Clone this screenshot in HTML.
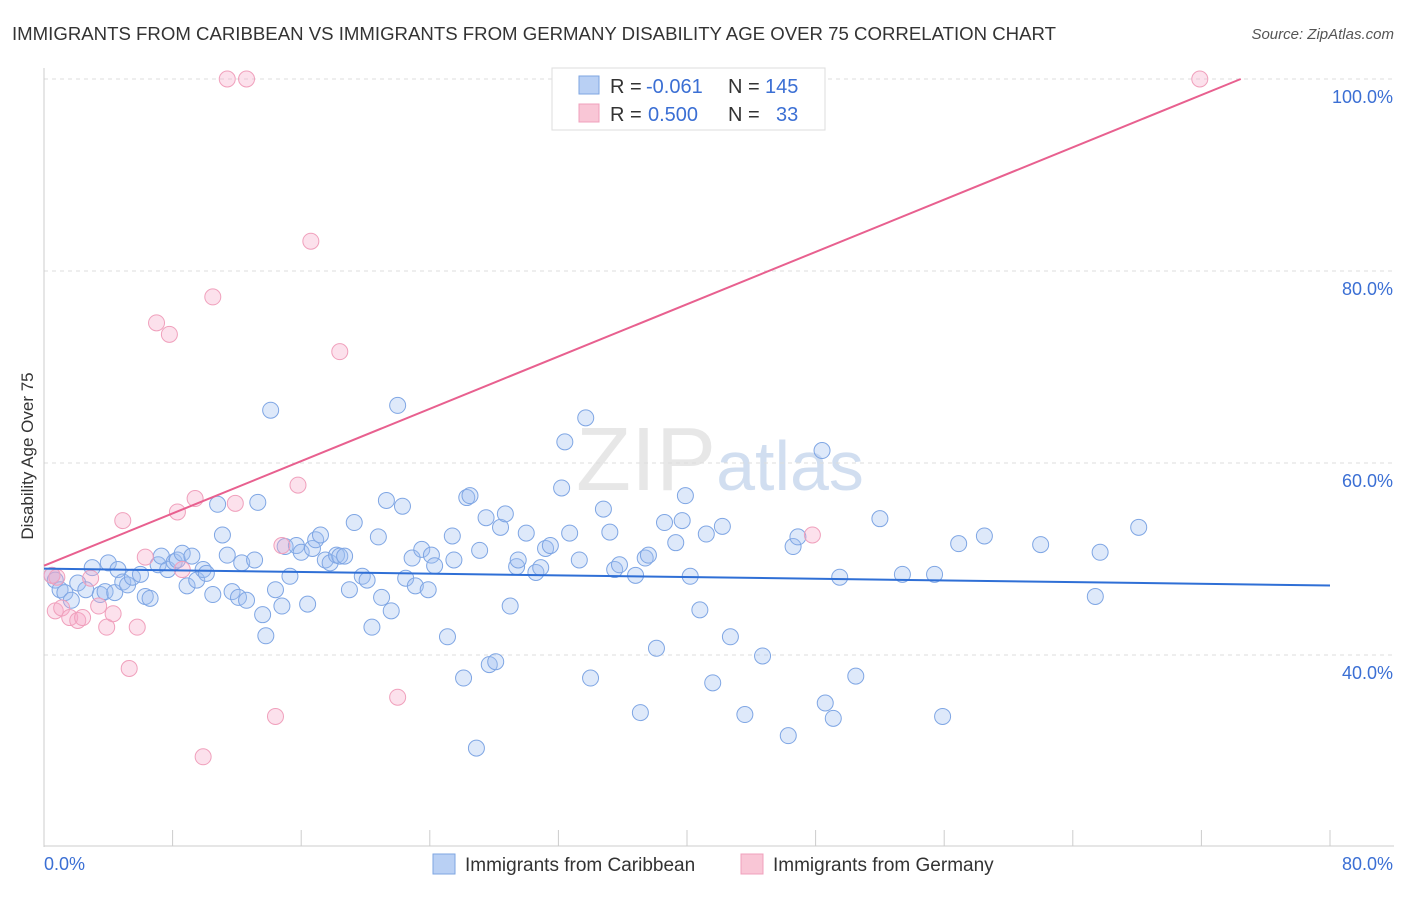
<!DOCTYPE html>
<html><head><meta charset="utf-8"><style>
body{margin:0;background:#fff;font-family:"Liberation Sans",sans-serif;}
svg text{font-family:"Liberation Sans",sans-serif;}
</style></head><body>
<svg id="chart" width="1406" height="892">
<text x="12" y="40" font-size="18" fill="#333" textLength="1044" lengthAdjust="spacingAndGlyphs">IMMIGRANTS FROM CARIBBEAN VS IMMIGRANTS FROM GERMANY DISABILITY AGE OVER 75 CORRELATION CHART</text>
<text x="1394" y="39" font-size="15" fill="#555" font-style="italic" text-anchor="end">Source: ZipAtlas.com</text>
<text x="720" y="490" font-size="90" fill="#ccc" opacity="0.45" text-anchor="middle" font-family="Liberation Serif">ZIP<tspan fill="#9bb8e0" font-family="Liberation Sans" font-size="70">atlas</tspan></text>
<g id="grid"></g><g id="axes"></g><g id="pts"></g><g id="lines"></g>
<text transform="translate(33,456) rotate(-90)" font-size="17" fill="#333" text-anchor="middle">Disability Age Over 75</text>
<g>
<rect x="552" y="68" width="273" height="62" fill="#fff" stroke="#ddd"/>
<rect x="579" y="76" width="20" height="18" fill="#b9d0f4" stroke="#7ea6e2"/>
<rect x="579" y="104" width="20" height="18" fill="#f9c6d6" stroke="#f0a0bc"/>
<text x="610" y="93" font-size="20" fill="#333">R =</text>
<text x="646" y="93" font-size="20" fill="#3b6fd4">-0.061</text>
<text x="728" y="93" font-size="20" fill="#333">N =</text>
<text x="765" y="93" font-size="20" fill="#3b6fd4">145</text>
<text x="610" y="121" font-size="20" fill="#333">R =</text>
<text x="648" y="121" font-size="20" fill="#3b6fd4">0.500</text>
<text x="728" y="121" font-size="20" fill="#333">N =</text>
<text x="776" y="121" font-size="20" fill="#3b6fd4">33</text>
</g>
<g>
<rect x="433" y="854" width="22" height="20" fill="#b9d0f4" stroke="#7ea6e2"/>
<text x="465" y="871" font-size="19" fill="#333">Immigrants from Caribbean</text>
<rect x="741" y="854" width="22" height="20" fill="#f9c6d6" stroke="#f0a0bc"/>
<text x="773" y="871" font-size="19" fill="#333">Immigrants from Germany</text>
</g>
</svg>
<script>
const yTicks=[40,60,80,100];
const yTickLabels=["40.0%","60.0%","80.0%","100.0%"];
const xTicks=[0,8,16,24,32,40,48,56,64,72,80];
const blueX=[0.5,0.7,1.0,1.3,1.7,2.1,2.6,3.0,3.5,3.8,4.0,4.4,4.6,4.9,5.2,5.5,6.0,6.3,6.6,7.1,7.3,7.7,8.1,8.3,8.6,8.9,9.2,9.5,9.9,10.1,10.5,10.8,11.1,11.4,11.7,12.1,12.3,12.6,13.1,13.3,13.6,13.8,14.1,14.4,14.8,15.0,15.3,15.7,16.0,16.4,16.7,16.9,17.2,17.5,17.8,18.2,18.4,18.7,19.0,19.3,19.8,20.1,20.4,20.8,21.0,21.3,21.6,22.0,22.3,22.5,22.9,23.1,23.5,23.9,24.1,24.3,25.1,25.4,25.5,26.1,26.3,26.5,26.9,27.1,27.5,27.7,28.1,28.4,28.7,29.0,29.4,29.5,30.0,30.6,30.9,31.2,31.5,32.2,32.4,32.7,33.3,33.7,34.0,34.8,35.2,35.5,35.8,36.8,37.1,37.4,37.6,38.1,38.6,39.3,39.7,39.9,40.2,40.8,41.2,41.6,42.2,42.7,43.6,44.7,46.3,46.6,46.9,48.4,48.6,49.1,49.5,50.5,52.0,53.4,55.4,55.9,56.9,58.5,62.0,65.4,65.7,68.1];
const blueY=[48.3,47.8,46.8,46.5,45.7,47.5,46.8,49.1,46.3,46.6,49.6,46.5,48.9,47.6,47.3,48.1,48.4,46.1,45.9,49.4,50.3,48.9,49.7,49.9,50.6,47.2,50.3,47.8,48.9,48.5,46.3,55.7,52.5,50.4,46.6,46.0,49.6,45.7,49.9,55.9,44.2,42.0,65.5,46.8,45.1,51.3,48.2,51.4,50.7,45.3,51.1,52.0,52.5,49.9,49.6,50.4,50.3,50.3,46.8,53.8,48.2,47.8,42.9,52.3,46.0,56.1,44.6,66.0,55.5,48.0,50.1,47.2,51.0,46.8,50.4,49.3,41.9,52.4,49.9,37.6,56.4,56.6,30.3,50.9,54.3,39.0,39.3,53.3,54.7,45.1,49.2,49.9,52.7,48.6,49.1,51.1,51.4,57.4,62.2,52.7,49.9,64.7,37.6,55.2,52.8,48.9,49.4,48.3,34.0,50.1,50.4,40.7,53.8,51.7,54.0,56.6,48.2,44.7,52.6,37.1,53.4,41.9,33.8,39.9,31.6,51.3,52.3,61.3,35.0,33.4,48.1,37.8,54.2,48.4,48.4,33.6,51.6,52.4,51.5,46.1,50.7,53.3];
const pinkX=[0.5,0.8,0.7,1.1,1.6,2.1,2.4,2.9,3.4,3.9,4.3,4.9,5.3,5.8,6.3,7.0,7.8,8.3,8.6,9.4,9.9,10.5,11.4,11.9,12.6,14.4,14.8,15.8,16.6,18.4,22.0,47.8,71.9];
const pinkY=[48.3,48.1,44.6,44.9,43.9,43.6,43.9,48.0,45.1,42.9,44.3,54.0,38.6,42.9,50.2,74.6,73.4,54.9,48.9,56.3,29.4,77.3,100,55.8,100,33.6,51.4,57.7,83.1,71.6,35.6,52.5,100];
const blueFit=[49.0,-0.022];   // intercept, slope
const pinkFit=[49.3,0.681];
const NS="http://www.w3.org/2000/svg";
const X=v=>44+v*(1286/80), Y=v=>847-(v-20)*9.6;
function mk(t,a,p){const e=document.createElementNS(NS,t);for(const k in a)e.setAttribute(k,a[k]);p.appendChild(e);return e;}
const grid=document.getElementById('grid'),axes=document.getElementById('axes'),pts=document.getElementById('pts'),lines=document.getElementById('lines');
yTicks.forEach((v,i)=>{
  const l=mk('line',{x1:44,x2:1394,y1:Y(v),y2:Y(v),stroke:'#ddd','stroke-dasharray':'4,4'},grid);
  
  
  const t=mk('text',{x:1393,y:Y(v)+24,'font-size':18,fill:'#3b6fd4','text-anchor':'end'},axes);
  t.textContent=yTickLabels[i];
  
  
});
mk('line',{x1:44,x2:44,y1:68,y2:847,stroke:'#ccc'},axes);
mk('line',{x1:44,x2:1394,y1:846,y2:846,stroke:'#ccc'},axes);
xTicks.forEach(v=>{const l=mk('line',{x1:X(v),x2:X(v),y1:830,y2:846,stroke:'#ccc'},axes);
  
  });
const x0=mk('text',{x:44,y:870,'font-size':18,fill:'#3b6fd4'},axes);x0.textContent='0.0%';


const x1=mk('text',{x:1393,y:870,'font-size':18,fill:'#3b6fd4','text-anchor':'end'},axes);x1.textContent='80.0%';


blueX.forEach((v,i)=>{const c=mk('circle',{cx:X(v),cy:Y(blueY[i]),r:8,fill:'rgba(160,192,240,0.35)',stroke:'#7fa6e4','stroke-width':1},pts);
  
  });
pinkX.forEach((v,i)=>{const c=mk('circle',{cx:X(v),cy:Y(pinkY[i]),r:8,fill:'rgba(245,170,200,0.35)',stroke:'#f0a0bc','stroke-width':1},pts);
  
  });
const bl=mk('line',{x1:X(0),y1:Y(blueFit[0]),x2:X(80),y2:Y(blueFit[0]+blueFit[1]*80),stroke:'#2f6fd6','stroke-width':2},lines);


const xe=(100-pinkFit[0])/pinkFit[1];
const pl=mk('line',{x1:X(0),y1:Y(pinkFit[0]),x2:X(xe),y2:Y(100),stroke:'#e8608f','stroke-width':2},lines);


</script>
</body></html>
